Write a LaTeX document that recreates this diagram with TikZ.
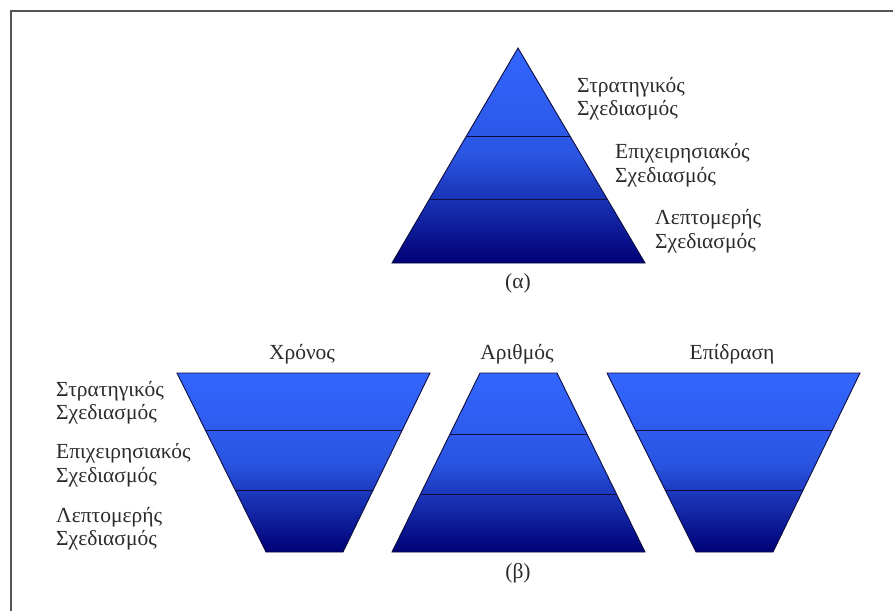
\documentclass[tikz,border=0pt]{standalone}
\usepackage{fontspec}
\setmainfont{Liberation Serif}
\usetikzlibrary{calc}
\definecolor{framegray}{HTML}{555555}
\definecolor{topblue}{HTML}{3366FF}
\definecolor{midblue}{HTML}{2A55E2}
\definecolor{navy}{HTML}{000075}
\definecolor{edgeblue}{HTML}{0D0D40}
\definecolor{textgray}{HTML}{2B2B2B}
\tikzset{
  layerbox/.style={draw=edgeblue,line width=0.9pt,top color=topblue,bottom color=navy,middle color=midblue},
  cutline/.style={draw=edgeblue,line width=1pt},
  lbl/.style={align=left,anchor=west,inner sep=0pt,text=textgray,font=\fontsize{21.5}{23.5}\selectfont},
  hdr/.style={inner sep=0pt,text=textgray,font=\fontsize{21.5}{23.5}\selectfont},
}

\begin{document}
\begin{tikzpicture}[x=1pt,y=-1pt]
  \useasboundingbox (0,0) rectangle (893,610);
  \clip (0,0) rectangle (893,610);
  \draw[framegray,line width=2.5pt] (11,11) rectangle (910,630);

  % (a) pyramid
  \coordinate (pa-top) at (518,48);
  \coordinate (pa-bl) at (392,263);
  \coordinate (pa-br) at (645,263);
  \path[layerbox] (pa-top)--(pa-br)--(pa-bl)--cycle;
  \draw[cutline] ($(pa-top)!0.413!(pa-bl)$) -- ($(pa-top)!0.413!(pa-br)$);
  \draw[cutline] ($(pa-top)!0.703!(pa-bl)$) -- ($(pa-top)!0.703!(pa-br)$);
  \node[lbl] (pa-strat) at (577,98.5) {Στρατηγικός\\Σχεδιασμός};
  \node[lbl] (pa-epix) at (615,165) {Επιχειρησιακός\\Σχεδιασμός};
  \node[lbl] (pa-lept) at (655,231) {Λεπτομερής\\Σχεδιασμός};
  \node[hdr] (pa-cap) at (518,283) {(α)};

  % (b) time
  \coordinate (tx-tl) at (177,373);
  \coordinate (tx-tr) at (430,373);
  \coordinate (tx-bl) at (266,552);
  \coordinate (tx-br) at (343,552);
  \path[layerbox] (tx-tl)--(tx-tr)--(tx-br)--(tx-bl)--cycle;
  \draw[cutline] ($(tx-tl)!0.323!(tx-bl)$) -- ($(tx-tr)!0.323!(tx-br)$);
  \draw[cutline] ($(tx-tl)!0.659!(tx-bl)$) -- ($(tx-tr)!0.659!(tx-br)$);
  \node[hdr] (tx-head) at (302,354) {Χρόνος};

  % (b) number
  \coordinate (nr-tl) at (480,373);
  \coordinate (nr-tr) at (557,373);
  \coordinate (nr-bl) at (392,552);
  \coordinate (nr-br) at (645,552);
  \path[layerbox] (nr-tl)--(nr-tr)--(nr-br)--(nr-bl)--cycle;
  \draw[cutline] ($(nr-tl)!0.345!(nr-bl)$) -- ($(nr-tr)!0.345!(nr-br)$);
  \draw[cutline] ($(nr-tl)!0.677!(nr-bl)$) -- ($(nr-tr)!0.677!(nr-br)$);
  \node[hdr] (nr-head) at (517,354) {Αριθμός};

  % (b) impact
  \coordinate (im-tl) at (607,373);
  \coordinate (im-tr) at (860,373);
  \coordinate (im-bl) at (696,552);
  \coordinate (im-br) at (773,552);
  \path[layerbox] (im-tl)--(im-tr)--(im-br)--(im-bl)--cycle;
  \draw[cutline] ($(im-tl)!0.323!(im-bl)$) -- ($(im-tr)!0.323!(im-br)$);
  \draw[cutline] ($(im-tl)!0.659!(im-bl)$) -- ($(im-tr)!0.659!(im-br)$);
  \node[hdr] (im-head) at (732,354) {Επίδραση};

  % level names on the left
  \node[lbl] (pb-strat) at (56,402.5) {Στρατηγικός\\Σχεδιασμός};
  \node[lbl] (pb-epix) at (56,465) {Επιχειρησιακός\\Σχεδιασμός};
  \node[lbl] (pb-lept) at (56,528.5) {Λεπτομερής\\Σχεδιασμός};
  \node[hdr] (pb-cap) at (518,573) {(β)};
\end{tikzpicture}
\end{document}
